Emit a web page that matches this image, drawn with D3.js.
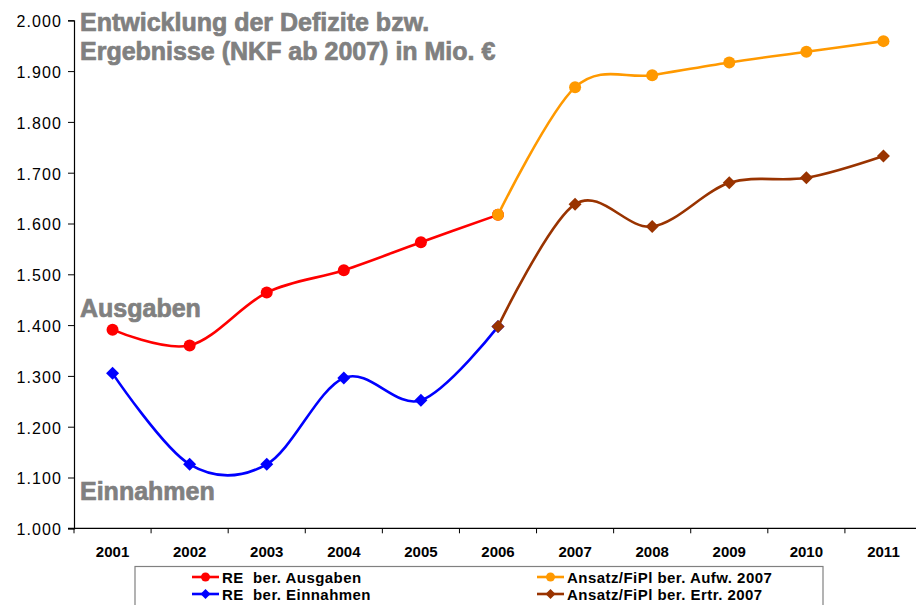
<!DOCTYPE html>
<html>
<head>
<meta charset="utf-8">
<script src="https://cdn.jsdelivr.net/npm/d3@7"></script>
<style>
  body { margin: 0; background: #fff; }
  svg { display: block; font-family: "Liberation Sans", Arial, sans-serif; }
</style>
</head>
<body>
<div class="chartContainer"></div>
<script>
const years = ['2001', '2002', '2003', '2004', '2005', '2006', '2007', '2008', '2009', '2010', '2011'];
const reAusgaben = [1391, 1360, 1464, 1508, 1563, 1617, null, null, null, null, null];
const reEinnahmen = [1305, 1126, 1126, 1296, 1252, 1397, null, null, null, null, null];
const planAufw = [null, null, null, null, null, 1617, 1868, 1892, 1917, 1938, 1959];
const planErtr = [null, null, null, null, null, 1397, 1638, 1594, 1680, 1690, 1733];
const yTicks = [1000, 1100, 1200, 1300, 1400, 1500, 1600, 1700, 1800, 1900, 2000];

const series = [
  { name: 'RE  ber. Ausgaben', values: reAusgaben, color: '#FF0000', shape: 'circle' },
  { name: 'RE  ber. Einnahmen', values: reEinnahmen, color: '#0000FF', shape: 'diamond' },
  { name: 'Ansatz/FiPl ber. Aufw. 2007', values: planAufw, color: '#FF9900', shape: 'circle' },
  { name: 'Ansatz/FiPl ber. Ertr. 2007', values: planErtr, color: '#993300', shape: 'diamond' }
];

const width = 916, height = 605;
const plot = { left: 74, top: 20.3, right: 922, bottom: 528.3 };

const svg = d3.select('.chartContainer')
  .append('svg')
  .attr('width', width)
  .attr('height', height);

// scales
const x = d3.scaleBand().domain(years).range([plot.left, plot.right]);
const y = d3.scaleLinear().domain([1000, 2000]).range([plot.bottom, plot.top]);
const fmt = d3.format(',.0f');
const deFmt = v => fmt(v).replace(',', '.');

// y axis
const yAxis = d3.axisLeft(y).tickValues(yTicks).tickSize(6).tickPadding(6).tickFormat(deFmt);
const gy = svg.append('g')
  .attr('transform', 'translate(' + plot.left + ',0)')
  .call(yAxis);
gy.selectAll('text')
  .style('font-size', '16px')
  .style('letter-spacing', '1.1px')
  .attr('dy', '0.4em')
  .attr('fill', '#000');
gy.selectAll('.tick line').attr('stroke', '#000');
gy.select('.domain').attr('stroke', '#000').attr('stroke-width', 1.2);

// x axis with ticks between categories
const xAxis = d3.axisBottom(x).tickSize(0);
const gx = svg.append('g')
  .attr('transform', 'translate(0,' + plot.bottom + ')')
  .call(xAxis);
gx.select('.domain').remove();
gx.append('line')
  .attr('x1', plot.left - 6).attr('x2', plot.right)
  .attr('stroke', '#000').attr('stroke-width', 1.2);
gx.selectAll('.sep')
  .data(years.concat(['end']))
  .enter()
  .append('line')
  .attr('class', 'sep')
  .attr('x1', (d, i) => plot.left + i * x.step())
  .attr('x2', (d, i) => plot.left + i * x.step())
  .attr('y2', 5)
  .attr('stroke', '#000');
gx.selectAll('text')
  .attr('y', 29).attr('dy', 0)
  .style('font-size', '15px').style('font-weight', 'bold').attr('fill', '#000');

// smooth lines like Excel
const line = d3.line()
  .defined(d => d.v != null)
  .x(d => x(d.year) + x.bandwidth() / 2)
  .y(d => y(d.v))
  .curve(d3.curveCardinal.tension(0));

const diamond = r => 'M0,' + (-r) + 'L' + r + ',0L0,' + r + 'L' + (-r) + ',0Z';

series.forEach(s => {
  const pts = years.map((yr, i) => ({ year: yr, v: s.values[i] }));
  svg.append('path')
    .datum(pts)
    .attr('d', line)
    .attr('fill', 'none')
    .attr('stroke', s.color)
    .attr('stroke-width', 2.6);

  const marks = svg.selectAll(null)
    .data(pts.filter(d => d.v != null))
    .enter();
  if (s.shape === 'circle') {
    marks.append('circle')
      .attr('cx', d => x(d.year) + x.bandwidth() / 2)
      .attr('cy', d => y(d.v))
      .attr('r', 6)
      .attr('fill', s.color);
  } else {
    marks.append('path')
      .attr('d', diamond(6.5))
      .attr('transform', d => 'translate(' + (x(d.year) + x.bandwidth() / 2) + ',' + y(d.v) + ')')
      .attr('fill', s.color);
  }
});

// titles
const grey = '#808080';
function bigLabel(tx, ty, str) {
  svg.append('text').attr('x', tx).attr('y', ty)
    .style('font-size', '25px').style('font-weight', 'bold')
    .attr('fill', grey).attr('stroke', grey).attr('stroke-width', 0.7)
    .text(str);
}
bigLabel(80, 31, 'Entwicklung der Defizite bzw.');
bigLabel(80, 60, 'Ergebnisse (NKF ab 2007) in Mio. €');
bigLabel(80, 317, 'Ausgaben');
bigLabel(80, 500, 'Einnahmen');

// legend
const legend = svg.append('g');
legend.append('rect')
  .attr('x', 135).attr('y', 566.5)
  .attr('width', 688).attr('height', 60)
  .attr('fill', '#fff').attr('stroke', '#808080').attr('stroke-width', 1.2);

const legendPos = [
  { x: 192, y: 577 }, { x: 192, y: 594 },
  { x: 537, y: 577 }, { x: 537, y: 594 }
];
series.forEach((s, i) => {
  const p = legendPos[i];
  const g = legend.append('g').attr('transform', 'translate(' + p.x + ',' + p.y + ')');
  g.append('line').attr('x1', 0).attr('x2', 27)
    .attr('stroke', s.color).attr('stroke-width', 2.6);
  if (s.shape === 'circle') {
    g.append('circle').attr('cx', 13.5).attr('r', 4.5).attr('fill', s.color);
  } else {
    g.append('path').attr('d', diamond(5)).attr('transform', 'translate(13.5,0)').attr('fill', s.color);
  }
  g.append('text').attr('x', 30).attr('y', 5.5)
    .style('font-size', '15px').style('font-weight', 'bold')
    .style('letter-spacing', '0.45px').style('white-space', 'pre')
    .attr('fill', '#000')
    .text(s.name);
});
</script>
</body>
</html>
